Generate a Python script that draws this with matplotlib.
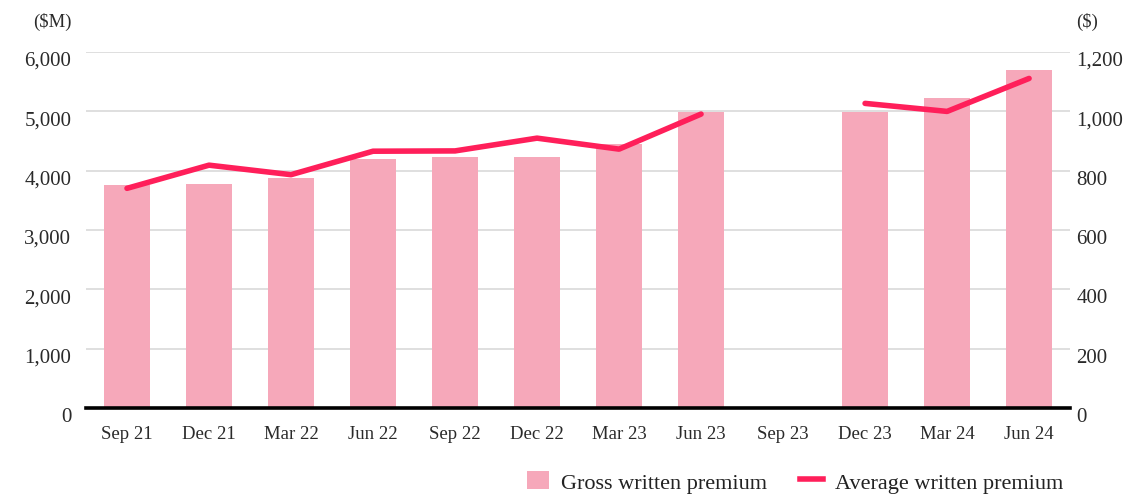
import matplotlib.pyplot as plt
import numpy as np
from matplotlib.lines import Line2D
from matplotlib.patches import Patch
from matplotlib.transforms import ScaledTranslation

plt.rcParams['font.family'] = ['Liberation Serif', 'DejaVu Serif']

quarters = ['Sep 21', 'Dec 21', 'Mar 22', 'Jun 22', 'Sep 22', 'Dec 22',
            'Mar 23', 'Jun 23', 'Sep 23', 'Dec 23', 'Mar 24', 'Jun 24']
# $M, Sep 23 not reported
gwp = [3750, 3765, 3866, 4200, 4235, 4220, 4454, 4990, np.nan, 4980, 5227, 5697]
# $
awp = [740, 818, 786, 865, 866, 909, 872, 990, np.nan, 1026, 999, 1110]

bar_col = '#f6a8ba'
line_col = '#ff1f5a'
txt_col = '#2a2a2a'

fig = plt.figure(figsize=(11.39, 5.02), dpi=100)
ax = fig.add_axes([0.0755, 0.185, 0.864, 0.71])
ax2 = ax.twinx()

x = np.arange(len(quarters))
ax.bar(x, gwp, width=0.56, color=bar_col, zorder=2)
ax2.plot(x, awp, color=line_col, lw=4, solid_capstyle='round',
         solid_joinstyle='round', zorder=3, clip_on=False)

ax.set_xlim(-0.5, len(quarters) - 0.5)
ax.set_ylim(0, 6000)
ax2.set_ylim(0, 1200)
ax.set_yticks(range(0, 6001, 1000))
ax2.set_yticks(range(0, 1201, 200))
ax.set_yticklabels([f'{v:,}' for v in range(0, 6001, 1000)])
ax2.set_yticklabels([f'{v:,}' for v in range(0, 1201, 200)])
ax.set_xticks(x)
ax.set_xticklabels(quarters)

ax.grid(axis='y', color='#d9d9d9', lw=1.2, zorder=0)
ax.set_axisbelow(True)
for a in (ax, ax2):
    for s in ('top', 'left', 'right', 'bottom'):
        a.spines[s].set_visible(False)
ax.axhline(0, color='black', lw=2.6, zorder=4, clip_on=False)

ax.tick_params(axis='y', length=0, pad=10.5, labelsize=15, labelcolor=txt_col)
ax2.tick_params(axis='y', length=0, pad=4.5, labelsize=15, labelcolor=txt_col)
ax.tick_params(axis='x', length=0, pad=12, labelsize=13.5, labelcolor=txt_col)

# tick labels sit a little below their gridlines
shift = ScaledTranslation(0, -6 / 100, fig.dpi_scale_trans)
for lab in ax.get_yticklabels() + ax2.get_yticklabels():
    lab.set_transform(lab.get_transform() + shift)

fig.text(0.063, 0.957, '($M)', ha='right', va='center', fontsize=13.5, color=txt_col)
fig.text(0.945, 0.957, '($)', ha='left', va='center', fontsize=13.5, color=txt_col)

handles = [Patch(facecolor=bar_col, edgecolor='none'),
           Line2D([], [], color=line_col, lw=4)]
fig.legend(handles, ['Gross written premium', 'Average written premium'],
           loc='center right', bbox_to_anchor=(0.951, 0.038), ncol=2,
           frameon=False, fontsize=16, handlelength=1.0, handleheight=0.9,
           columnspacing=1.5, handletextpad=0.55, labelcolor='#222222')

fig.savefig('out.png', dpi=100)
